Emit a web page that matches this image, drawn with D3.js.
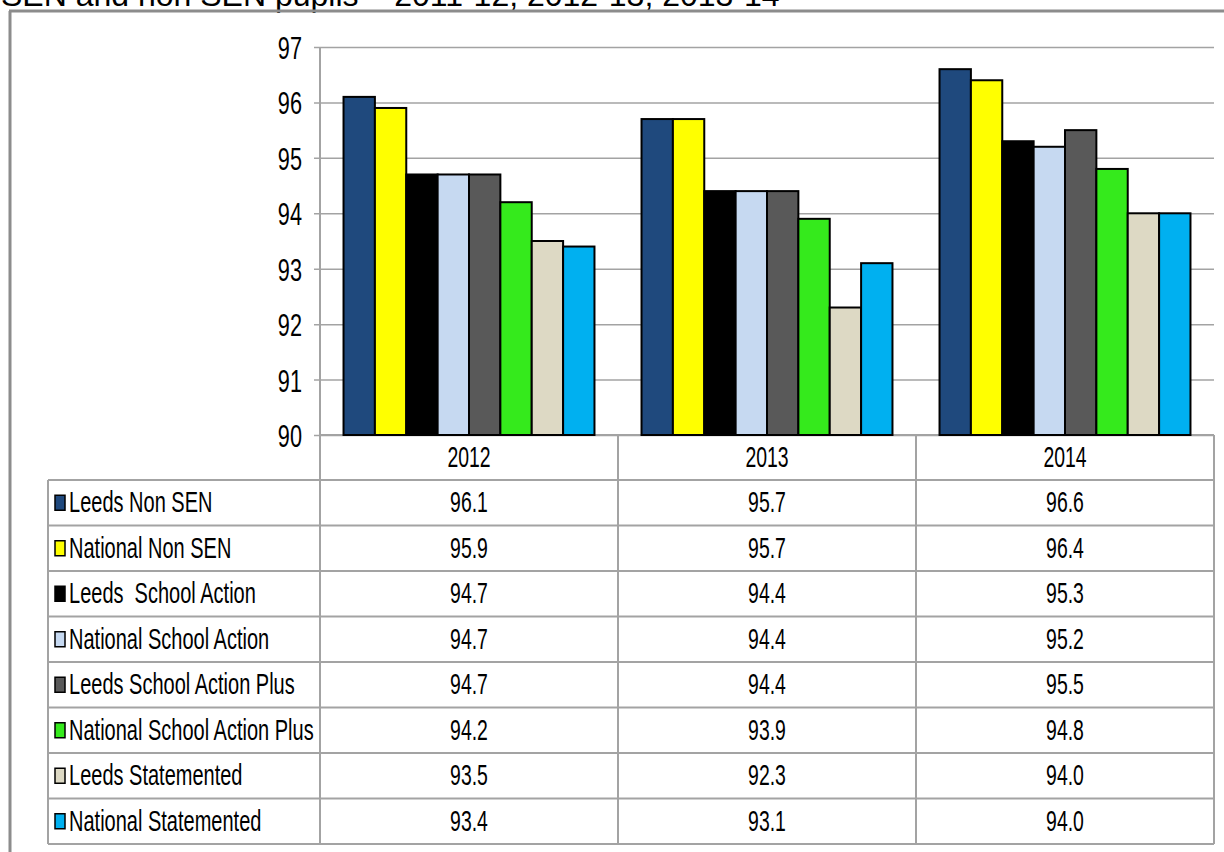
<!DOCTYPE html>
<html>
<head>
<meta charset="utf-8">
<script src="https://cdn.jsdelivr.net/npm/d3@7/dist/d3.min.js"></script>
<style>
html,body{margin:0;padding:0;background:#fff;}
svg{display:block;}
text{font-family:"Liberation Sans", Arial, sans-serif;fill:#000;white-space:pre;}
</style>
</head>
<body>
<svg id="chart" width="1224" height="852"></svg>
<script>
const title = "SEN and non SEN pupils – 2011-12, 2012-13, 2013-14";
const years = ["2012", "2013", "2014"];
const seriesNames = [
  "Leeds Non SEN",
  "National Non SEN",
  "Leeds  School Action",
  "National School Action",
  "Leeds School Action Plus",
  "National School Action Plus",
  "Leeds Statemented",
  "National Statemented"
];
const seriesColors = ["#1F497D", "#FFFF00", "#000000", "#C6D9F1", "#595959", "#35EA1C", "#DDD9C4", "#00B0F0"];
const leedsNonSEN = [96.1, 95.7, 96.6];
const nationalNonSEN = [95.9, 95.7, 96.4];
const leedsSchoolAction = [94.7, 94.4, 95.3];
const nationalSchoolAction = [94.7, 94.4, 95.2];
const leedsSchoolActionPlus = [94.7, 94.4, 95.5];
const nationalSchoolActionPlus = [94.2, 93.9, 94.8];
const leedsStatemented = [93.5, 92.3, 94.0];
const nationalStatemented = [93.4, 93.1, 94.0];
const yTicks = [90, 91, 92, 93, 94, 95, 96, 97];

const seriesValues = [leedsNonSEN, nationalNonSEN, leedsSchoolAction, nationalSchoolAction,
  leedsSchoolActionPlus, nationalSchoolActionPlus, leedsStatemented, nationalStatemented];
const series = seriesNames.map((n, i) => ({name: n, color: seriesColors[i], values: seriesValues[i]}));

const svg = d3.select("#chart");
const gridColor = "#a3a3a3";

const plotLeft = 320, plotRight = 1214, plotTop = 47, plotBottom = 435;
const tableLeft = 48, tableHeaderBottom = 480, tableBottom = 844;

const x0 = d3.scaleBand().domain(years).range([plotLeft, plotRight]).paddingInner(0).paddingOuter(0);
const x1 = d3.scaleBand().domain(seriesNames).range([0, x0.bandwidth()]).paddingInner(0).paddingOuter(0.75);
const y = d3.scaleLinear().domain([90, 97]).range([plotBottom, plotTop]);
const rowY = d3.scaleBand().domain(seriesNames).range([tableHeaderBottom, tableBottom]);

function sText(g, x, yy, str, size, sx, anchor) {
  return g.append("text")
    .attr("transform", `translate(${x},${yy}) scale(${sx},1)`)
    .attr("text-anchor", anchor || "start")
    .attr("xml:space", "preserve")
    .style("font-size", size + "px")
    .text(str);
}

// Title (cut off at top, as in the source image)
svg.append("text").attr("x", 1).attr("y", 6).style("font-size", "32px").text(title);

// Outer frame
svg.append("line").attr("x1", 9).attr("x2", 1224).attr("y1", 11).attr("y2", 11)
  .attr("stroke", "#8c8c8c").attr("stroke-width", 3);
svg.append("line").attr("x1", 10).attr("x2", 10).attr("y1", 11).attr("y2", 852)
  .attr("stroke", "#8c8c8c").attr("stroke-width", 3);

// Gridlines + ticks
const yAxis = d3.axisLeft(y).tickValues(yTicks).tickSize(-(plotRight - plotLeft)).tickFormat("");
const ga = svg.append("g").attr("transform", `translate(${plotLeft},0)`).call(yAxis);
ga.select(".domain").remove();
ga.selectAll(".tick line").attr("stroke", gridColor).attr("stroke-width", 1.5).attr("x1", -6);

// Tick labels
const tl = svg.append("g");
yTicks.forEach(t => sText(tl, 302, y(t) + 12, String(t), 31, 0.7, "end"));

// Table grid
const tg = svg.append("g").attr("stroke", gridColor).attr("stroke-width", 2).attr("fill", "none");
tg.append("line").attr("x1", plotLeft).attr("x2", plotRight).attr("y1", plotBottom).attr("y2", plotBottom);
seriesNames.forEach(n => {
  tg.append("line").attr("x1", tableLeft).attr("x2", plotRight).attr("y1", rowY(n)).attr("y2", rowY(n));
});
tg.append("line").attr("x1", tableLeft).attr("x2", plotRight).attr("y1", tableBottom).attr("y2", tableBottom);
tg.append("line").attr("x1", tableLeft).attr("x2", tableLeft).attr("y1", tableHeaderBottom).attr("y2", tableBottom);
tg.append("line").attr("x1", plotLeft).attr("x2", plotLeft).attr("y1", plotTop).attr("y2", tableBottom);
years.forEach(yr => {
  const xx = x0(yr) + x0.bandwidth();
  tg.append("line").attr("x1", xx).attr("x2", xx).attr("y1", plotBottom).attr("y2", tableBottom);
});

// Bars
const gb = svg.append("g");
years.forEach((yr, yi) => {
  gb.append("g").attr("transform", `translate(${x0(yr)},0)`)
    .selectAll("rect").data(series).join("rect")
    .attr("x", d => x1(d.name))
    .attr("y", d => y(d.values[yi]))
    .attr("width", x1.bandwidth())
    .attr("height", d => y(90) - y(d.values[yi]))
    .attr("fill", d => d.color)
    .attr("stroke", "#000").attr("stroke-width", 2);
});

// Table text
const tt = svg.append("g");
years.forEach(yr => sText(tt, x0(yr) + x0.bandwidth() / 2, (plotBottom + tableHeaderBottom) / 2 + 9, yr, 29, 0.67, "middle"));
series.forEach(s => {
  const cy = rowY(s.name) + rowY.bandwidth() / 2;
  tt.append("rect").attr("x", 55).attr("y", cy - 7.5).attr("width", 10).attr("height", 15)
    .attr("fill", s.color).attr("stroke", "#000").attr("stroke-width", 1.5);
  sText(tt, 69, cy + 9.5, s.name, 29, 0.69, "start");
  years.forEach((yr, yi) => {
    sText(tt, x0(yr) + x0.bandwidth() / 2, cy + 9.5, s.values[yi].toFixed(1), 29, 0.67, "middle");
  });
});
</script>
</body>
</html>
